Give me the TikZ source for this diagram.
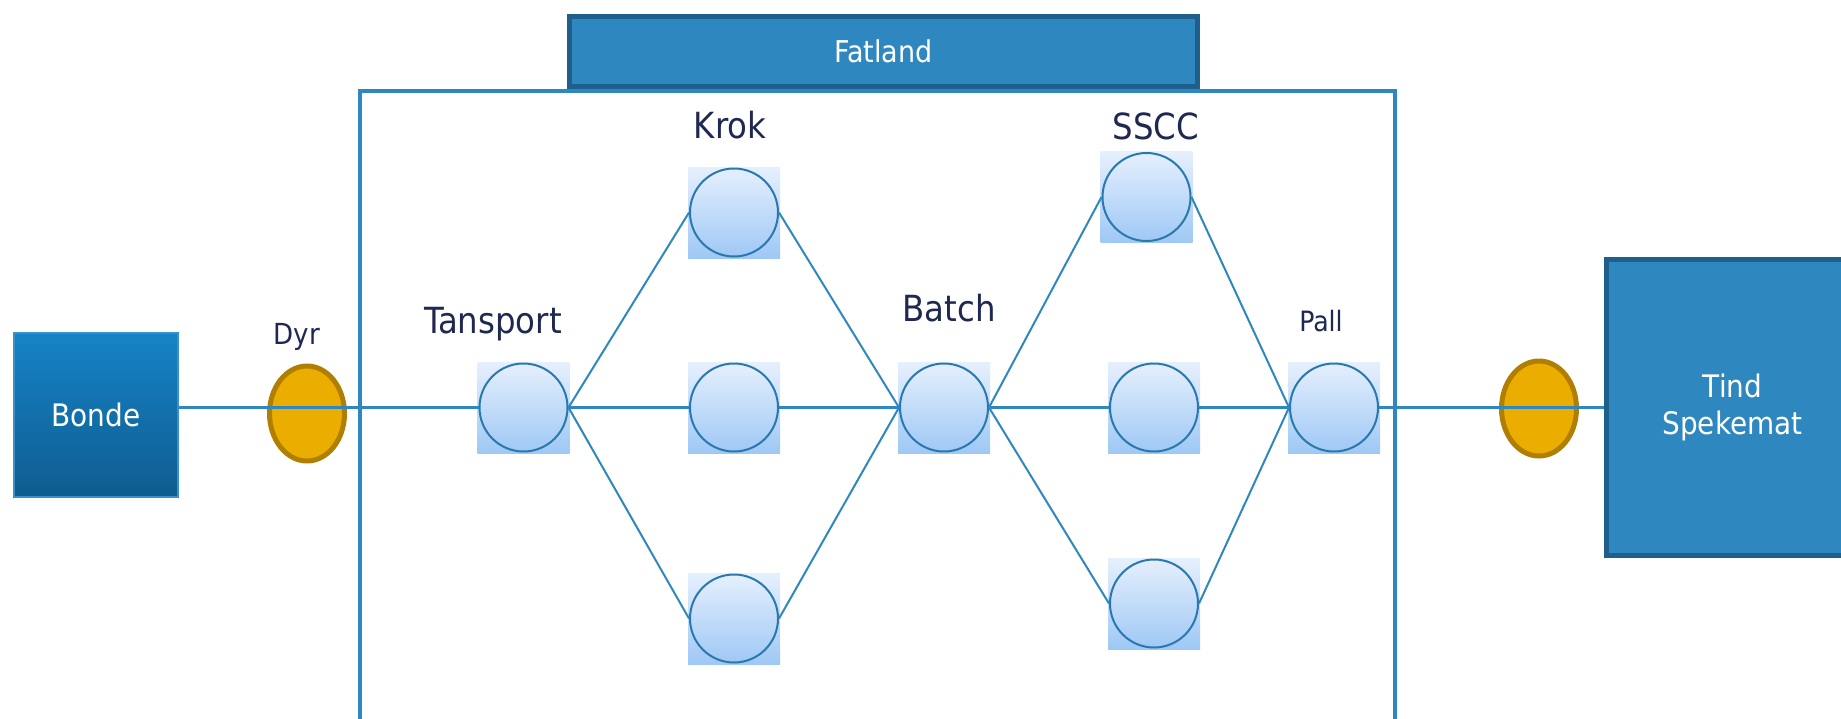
\documentclass[tikz,border=0pt]{standalone}
\usepackage{fontspec}
\setmainfont{DejaVu Sans Condensed}
\usetikzlibrary{shapes.geometric}
\definecolor{lineblue}{HTML}{2E88BF}
\definecolor{boxblue}{HTML}{2E88BF}
\definecolor{boxborder}{HTML}{1F5F8B}
\definecolor{navy}{HTML}{1E2850}
\definecolor{gold}{HTML}{EAAD00}
\definecolor{goldborder}{HTML}{B07F00}
\definecolor{nodetop}{HTML}{E6F0FD}
\definecolor{nodebot}{HTML}{9EC8F5}
\definecolor{circleline}{HTML}{2A78AE}
\definecolor{bondetop}{HTML}{1683C6}
\definecolor{bondebot}{HTML}{0F5C8F}
\definecolor{bondeline}{HTML}{3A90C8}
\begin{document}
\begin{tikzpicture}[x=1pt,y=-1pt,
  sqbg/.style={rectangle, minimum width=92pt, minimum height=91pt, inner sep=0pt, top color=nodetop, bottom color=nodebot, draw=none},
  pnode/.style={circle, draw=circleline, line width=2pt, minimum size=88pt, inner sep=0pt},
  token/.style={ellipse, draw=goldborder, fill=gold, line width=5pt, minimum width=75pt, minimum height=95pt, inner sep=0pt},
  bigbox/.style={rectangle, draw=boxborder, fill=boxblue, line width=5pt, inner sep=0pt, text=white, align=center},
  biglabel/.style={text=navy, anchor=base, inner sep=0pt, font=\fontsize{36}{41}\selectfont},
  smalllabel/.style={text=navy, anchor=base, inner sep=0pt, font=\fontsize{29}{34}\selectfont},
  mainline/.style={draw=lineblue, line width=3pt},
  diagline/.style={draw=lineblue, line width=2pt},
  frameline/.style={draw=lineblue, line width=4pt}]
\useasboundingbox (0,0) rectangle (1841,718);
\clip (0,0) rectangle (1841,718);

% container frame
\coordinate (fbl) at (360,730);
\coordinate (ftl) at (360,91);
\coordinate (ftr) at (1395,91);
\coordinate (fbr) at (1395,730);
\draw[frameline] (fbl) -- (ftl) -- (ftr) -- (fbr);

% Fatland header
\node[bigbox, minimum width=628pt, minimum height=70pt, font=\fontsize{30}{34}\selectfont] (fatland) at (883.5,51.5) {Fatland};

% Bonde
\node[rectangle, draw=bondeline, line width=2pt, top color=bondetop, bottom color=bondebot, minimum width=164pt, minimum height=164pt, inner sep=0pt, text=white, font=\fontsize{31}{36}\selectfont] (bonde) at (96,415) {Bonde};

% Tind Spekemat
\node[bigbox, minimum width=252pt, minimum height=296pt, font=\fontsize{31}{37.5}\selectfont] (tind) at (1732.5,407.5) {Tind\\Spekemat};

% tokens
\node[token] (dyr) at (307,413.5) {};
\node[token] (tindtok) at (1539,408.5) {};

% node backgrounds
\node[sqbg] (tr-bg) at (523.5,407.5) {};
\node[sqbg] (k1-bg) at (734,212.5) {};
\node[sqbg] (k2-bg) at (734,407.5) {};
\node[sqbg] (k3-bg) at (734,618.5) {};
\node[sqbg] (ba-bg) at (944,407.5) {};
\node[sqbg] (s1-bg) at (1146.5,197) {};
\node[sqbg] (s2-bg) at (1154,407.5) {};
\node[sqbg] (s3-bg) at (1154,603.5) {};
\node[sqbg] (pa-bg) at (1334,407.5) {};

% circles
\node[pnode] (tr) at (tr-bg) {};
\node[pnode] (k1) at (k1-bg) {};
\node[pnode] (k2) at (k2-bg) {};
\node[pnode] (k3) at (k3-bg) {};
\node[pnode] (ba) at (ba-bg) {};
\node[pnode] (s1) at (s1-bg) {};
\node[pnode] (s2) at (s2-bg) {};
\node[pnode] (s3) at (s3-bg) {};
\node[pnode] (pa) at (pa-bg) {};

% connectors
\draw[mainline] (bonde.east |- tr.west) -- (tr.west);
\draw[mainline] (tr.east) -- (k2.west);
\draw[mainline] (k2.east) -- (ba.west);
\draw[mainline] (ba.east) -- (s2.west);
\draw[mainline] (s2.east) -- (pa.west);
\draw[mainline] (pa.east) -- (tind.west |- pa.east);
\draw[diagline] (tr.east) -- (k1.west);
\draw[diagline] (tr.east) -- (k3.west);
\draw[diagline] (k1.east) -- (ba.west);
\draw[diagline] (k3.east) -- (ba.west);
\draw[diagline] (ba.east) -- (s1.west);
\draw[diagline] (ba.east) -- (s3.west);
\draw[diagline] (s1.east) -- (pa.west);
\draw[diagline] (s3.east) -- (pa.west);

% labels
\node[smalllabel] (dyrlab) at (297,344) {Dyr};
\node[biglabel] (trlab) at (493,333) {Tansport};
\node[biglabel] (krlab) at (730,138.5) {Krok};
\node[biglabel] (balab) at (949,321.5) {Batch};
\node[biglabel] (sslab) at (1156,139.5) {SSCC};
\node[smalllabel, font=\fontsize{28}{33}\selectfont] (palab) at (1321,331) {Pall};
\end{tikzpicture}
\end{document}
